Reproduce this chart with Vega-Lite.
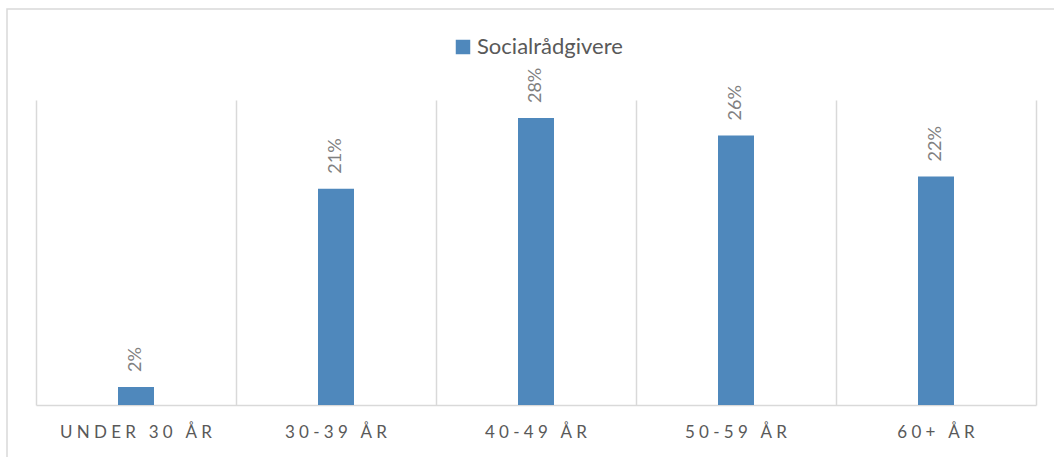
{
  "$schema": "https://vega.github.io/schema/vega-lite/v6.json",
  "autosize": "none",
  "padding": {"left": 7, "top": 9, "right": 0, "bottom": 0},
  "width": 1060,
  "height": 487,
  "background": "white",
  "data": {
    "values": [
      {"group": "UNDER 30 ÅR", "serie": "Socialrådgivere", "share": 0.0175},
      {"group": "30-39 ÅR", "serie": "Socialrådgivere", "share": 0.211},
      {"group": "40-49 ÅR", "serie": "Socialrådgivere", "share": 0.280},
      {"group": "50-59 ÅR", "serie": "Socialrådgivere", "share": 0.263},
      {"group": "60+ ÅR", "serie": "Socialrådgivere", "share": 0.223}
    ]
  },
  "encoding": {
    "x": {
      "field": "group",
      "type": "nominal",
      "sort": null,
      "scale": {"range": [29, 1029], "paddingInner": 0, "paddingOuter": 0},
      "axis": {
        "title": null,
        "orient": "bottom",
        "offset": -91,
        "bandPosition": 0,
        "grid": true,
        "gridColor": "#d9d9d9",
        "gridWidth": 1.5,
        "ticks": false,
        "domain": true,
        "domainColor": "#d9d9d9",
        "domainWidth": 1.5,
        "labelAngle": 0,
        "labelFont": "Lato",
        "labelFontSize": 17,
        "labelColor": "#595959",
        "labelPadding": 19,
        "labelBaseline": "top",
        "labelAlign": "center",
        "labelExpr": "join(split(datum.label, ''), '\u2005')"
      }
    },
    "y": {
      "field": "share",
      "type": "quantitative",
      "scale": {"domain": [0, 0.2976], "range": [396, 91], "nice": false, "zero": true},
      "axis": {
        "title": null,
        "orient": "right",
        "offset": -31,
        "labels": false,
        "ticks": false,
        "grid": false,
        "domain": true,
        "domainColor": "#d9d9d9",
        "domainWidth": 1.5
      }
    }
  },
  "layer": [
    {
      "mark": {"type": "bar", "width": {"band": 0.18}},
      "encoding": {
        "color": {
          "field": "serie",
          "type": "nominal",
          "scale": {"range": ["#4f88bc"]},
          "legend": {
            "title": null,
            "orient": "none",
            "legendX": 445,
            "legendY": 27,
            "symbolType": "square",
            "symbolSize": 210,
            "symbolStrokeWidth": 0,
            "labelFont": "Lato",
            "labelFontSize": 22,
            "labelColor": "#595959",
            "labelOffset": 3
          }
        }
      }
    },
    {
      "mark": {
        "type": "text",
        "angle": 270,
        "align": "left",
        "baseline": "middle",
        "dx": 15,
        "font": "Lato",
        "fontSize": 18,
        "color": "#808080"
      },
      "encoding": {
        "text": {"field": "share", "type": "quantitative", "format": ".0%"}
      }
    }
  ],
  "config": {
    "view": {"stroke": "#d9d9d9", "strokeWidth": 1.5}
  }
}
